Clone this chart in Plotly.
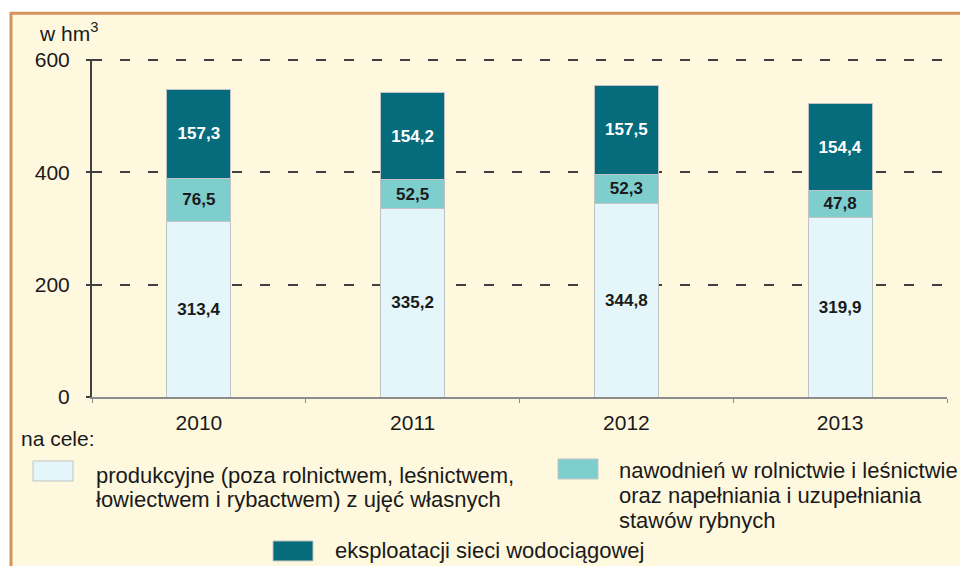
import plotly.graph_objects as go

years = ["2010", "2011", "2012", "2013"]
produkcyjne = [313.4, 335.2, 344.8, 319.9]
nawodnienia = [76.5, 52.5, 52.3, 47.8]
eksploatacja = [157.3, 154.2, 157.5, 154.4]

legend_lines = [
    ["produkcyjne (poza rolnictwem, leśnictwem,", "łowiectwem i rybactwem) z ujęć własnych"],
    ["nawodnień w rolnictwie i leśnictwie", "oraz napełniania i uzupełniania", "stawów rybnych"],
    ["eksploatacji sieci wodociągowej"],
]
colors = ["#E4F6FA", "#7ECECE", "#066C7C"]
text_colors = ["#1a1a1a", "#1a1a1a", "#FFFFFF"]

def fmt(v):
    return f"{v:.1f}".replace(".", ",")

fig = go.Figure()
for vals, lines, col, tcol in zip([produkcyjne, nawodnienia, eksploatacja], legend_lines, colors, text_colors):
    fig.add_trace(go.Bar(
        x=years, y=vals, name=" ".join(lines),
        marker=dict(color=col, line=dict(color="#C0C4C4", width=1)),
        text=[fmt(v) for v in vals], textposition="inside",
        insidetextanchor="middle", textangle=0, constraintext="none",
        textfont=dict(family="Liberation Sans, Arial", size=17, color=tcol, weight="bold"),
        width=0.3, showlegend=False,
    ))

W, H = 960, 566
L, R, T, B = 92, 947, 60, 397
YMAX = 602
pw, ph = R - L, B - T
top_px = B - ph * YMAX / 600.0

def px(x):
    return (x - L) / pw

def py(y):
    return (B - y) / (B - top_px)

shapes = [
    dict(type="rect", xref="paper", yref="paper",
         x0=px(11), x1=px(975), y0=py(585), y1=py(13),
         fillcolor="#FEF8DE", line=dict(color="#D4935C", width=3), layer="below"),
]
annotations = [
    dict(text="w hm<sup>3</sup>", x=px(37), y=py(32), xref="paper", yref="paper",
         xanchor="left", yanchor="middle", showarrow=False,
         font=dict(size=21, color="#1a1a1a")),
    dict(text="na cele:", x=px(19), y=py(439), xref="paper", yref="paper",
         xanchor="left", yanchor="middle", showarrow=False,
         font=dict(size=21, color="#1a1a1a")),
]
# swatch (x, y top), text x, first line center y, line spacing
legend_pos = [
    (33, 461, 94, 476, 24),
    (558, 459, 617, 471, 25),
    (273, 541, 333, 551, 25),
]
for (sx, sy, tx, ty, dy), lines, col in zip(legend_pos, legend_lines, colors):
    shapes.append(dict(type="rect", xref="paper", yref="paper",
                       x0=px(sx), x1=px(sx + 40), y0=py(sy + 20), y1=py(sy),
                       fillcolor=col, line=dict(color="#C0C4C4", width=1)))
    for i, line in enumerate(lines):
        annotations.append(dict(text=line, x=px(tx), y=py(ty + i * dy), xref="paper", yref="paper",
                                xanchor="left", yanchor="middle", align="left", showarrow=False,
                                font=dict(size=22, color="#1a1a1a")))

fig.update_layout(
    barmode="stack",
    width=W, height=H,
    margin=dict(l=L, r=W - R, t=top_px, b=H - B, pad=0),
    paper_bgcolor="#FFFFFF",
    plot_bgcolor="rgba(0,0,0,0)",
    font=dict(family="Liberation Sans, Arial", size=21, color="#1a1a1a"),
    shapes=shapes,
    annotations=annotations,
    xaxis=dict(showline=True, linecolor="#8C8C8C", linewidth=1.5,
               ticks="outside", tickson="boundaries", ticklen=4, tickcolor="#8C8C8C",
               ticklabelstandoff=6,
               tickfont=dict(size=21), showgrid=False),
    yaxis=dict(range=[0, YMAX], tickvals=[0, 200, 400, 600],
               showline=True, linecolor="#404040", linewidth=2,
               ticks="outside", ticklen=4, tickcolor="#404040", tickwidth=2,
               ticklabelstandoff=12,
               showgrid=True, gridcolor="#404040", gridwidth=2, griddash="10px,18px",
               zeroline=False, tickfont=dict(size=21)),
)

fig.write_html("out.html", config={"displayModeBar": False},
               post_script="document.body.style.margin='0';document.body.style.overflow='hidden';")
